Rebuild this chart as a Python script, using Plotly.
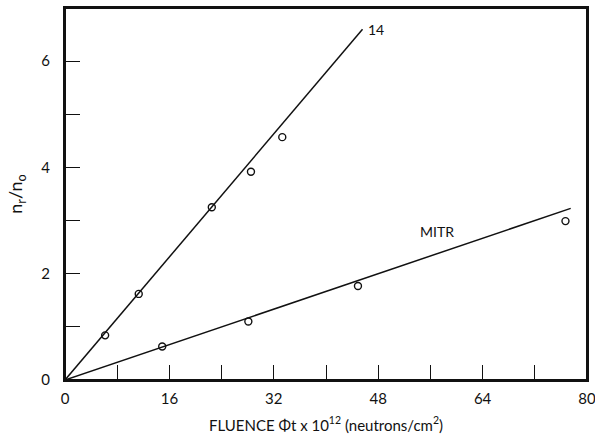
import plotly.graph_objects as go

# Data
x14 = [6.15, 11.3, 22.5, 28.5, 33.3]
y14 = [0.84, 1.62, 3.25, 3.92, 4.57]
fit14_x = [0, 45.6]
fit14_y = [0, 6.6]

xmitr = [14.9, 28.1, 44.9, 76.7]
ymitr = [0.63, 1.10, 1.77, 2.99]
fitmitr_x = [0, 77.5]
fitmitr_y = [0, 3.23]

xtick_vals = [0, 8, 16, 24, 32, 40, 48, 56, 64, 72, 80]
xtick_text = ["0", "", "16", "", "32", "", "48", "", "64", "", "80"]
ytick_vals = [0, 1, 2, 3, 4, 5, 6]
ytick_text = ["0", "", "2", "", "4", "", "6"]

FONT = "Lato"
black = "#111111"

fig = go.Figure()
fig.add_trace(go.Scatter(x=fit14_x, y=fit14_y, mode="lines",
                         line=dict(color=black, width=1.5), showlegend=False))
fig.add_trace(go.Scatter(x=fitmitr_x, y=fitmitr_y, mode="lines",
                         line=dict(color=black, width=1.5), showlegend=False))
marker = dict(symbol="circle-open", size=7, color=black, line=dict(width=1.4, color=black))
fig.add_trace(go.Scatter(x=x14, y=y14, mode="markers", marker=marker, showlegend=False))
fig.add_trace(go.Scatter(x=xmitr, y=ymitr, mode="markers", marker=marker, showlegend=False))

fig.add_annotation(x=47.6, y=6.6, text="14", showarrow=False,
                   font=dict(family=FONT, size=14, color=black))
fig.add_annotation(x=57.0, y=2.8, text="MITR", showarrow=False,
                   font=dict(family=FONT, size=14, color=black))

# plot frame
fig.add_shape(type="rect", xref="x domain", yref="y domain", x0=0, x1=1, y0=0, y1=1,
              line=dict(color=black, width=2), fillcolor="rgba(0,0,0,0)", layer="above")

fig.update_layout(
    width=595, height=440,
    margin=dict(l=65, r=8, t=8, b=60),
    paper_bgcolor="white", plot_bgcolor="white",
    font=dict(family=FONT, size=15, color=black),
    xaxis=dict(range=[0, 80], tickvals=xtick_vals, ticktext=xtick_text,
               ticks="inside", ticklen=15, tickwidth=1.2, tickcolor=black,
               showline=True, linecolor=black, linewidth=2, mirror=True,
               showgrid=False, zeroline=False, automargin=False,
               ticklabeloverflow="allow",
               ticklabelstandoff=4, tickfont=dict(size=15),
               title=dict(text="FLUENCE \u03a6t x 10<sup>12</sup> (neutrons/cm<sup>2</sup>)",
                          font=dict(family=FONT, size=15), standoff=14)),
    yaxis=dict(range=[0, 7], tickvals=ytick_vals, ticktext=ytick_text,
               ticks="inside", ticklen=15, tickwidth=1.2, tickcolor=black,
               showline=True, linecolor=black, linewidth=2, mirror=True,
               showgrid=False, zeroline=False, automargin=False,
               ticklabelstandoff=10, tickfont=dict(size=15),
               title=dict(text="n<sub>r</sub>/n<sub>o</sub>",
                          font=dict(family=FONT, size=18), standoff=14)),
)

fig.write_html("out.html")
